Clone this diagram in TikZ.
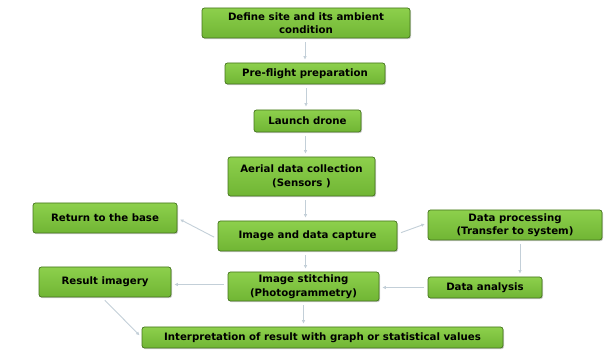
\documentclass[tikz,border=0pt]{standalone}
\usepackage{fontspec}
\newfontfamily\boxfont{DejaVu Sans}
\usepackage{tikz}
\usetikzlibrary{arrows.meta, positioning, shadows}

\definecolor{boxtop}{HTML}{8DD04C}
\definecolor{boxbottom}{HTML}{70B534}
\definecolor{boxline}{HTML}{44741C}
\definecolor{arrowgray}{HTML}{C3CFD8}

\begin{document}
\begin{tikzpicture}[
    x=1pt, y=1pt,
    box/.style={draw=boxline, line width=0.7pt, rectangle, rounded corners=2.5pt,
        top color=boxtop, bottom color=boxbottom, inner sep=1pt, align=center,
        drop shadow={shadow xshift=1pt, shadow yshift=-1.2pt, opacity=0.4},
        font=\boxfont\bfseries\fontsize{10.2}{13.5}\selectfont},
    arrow/.style={-{Latex[length=3.5pt, width=3.5pt]}, arrowgray, line width=0.9pt,
        shorten >=3pt, shorten <=4pt}
]
    \useasboundingbox (0,0) rectangle (614,-352);

    \node[box, minimum width=208, minimum height=30] (site) at (306,-23) {Define site and its ambient\\condition};
    \node[box, minimum width=160, minimum height=21] (prep) at (305,-73.5) {Pre-flight preparation};
    \node[box, minimum width=107, minimum height=22] (launch) at (307.5,-121) {Launch drone};
    \node[box, minimum width=147, minimum height=39] (aerial) at (301.5,-176.5) {Aerial data collection\\(Sensors )};
    \node[box, minimum width=179, minimum height=30] (capture) at (307.5,-236) {Image and data capture};
    \node[box, minimum width=144, minimum height=30] (base) at (105,-218) {Return to the base};
    \node[box, minimum width=174, minimum height=30] (proc) at (515,-225) {Data processing\\(Transfer to system)};
    \node[box, minimum width=151, minimum height=29] (stitch) at (303.5,-286.5) {Image stitching\\(Photogrammetry)};
    \node[box, minimum width=132, minimum height=30] (result) at (105,-282) {Result imagery};
    \node[box, minimum width=114, minimum height=21] (analysis) at (485,-287.5) {Data analysis};
    \node[box, minimum width=361, minimum height=21] (interp) at (322.5,-337.5) {Interpretation of result with graph or statistical values};

    % main chain
    \draw[arrow] ([xshift=-1pt]site.south) -- ([xshift=-1pt]site.south |- prep.north);
    \draw[arrow] ([xshift=1pt]prep.south) -- ([xshift=1pt]prep.south |- launch.north);
    \draw[arrow] ([xshift=-2pt]launch.south) -- ([xshift=-2pt]launch.south |- aerial.north);
    \draw[arrow] ([xshift=4pt]aerial.south) -- ([xshift=4pt]aerial.south |- capture.north);
    \draw[arrow] ([xshift=-2pt]capture.south) -- ([xshift=-2pt]capture.south |- stitch.north);
    \draw[arrow] (stitch.south) -- (stitch.south |- interp.north);

    % side branches
    \draw[arrow] ([yshift=-3pt]capture.west) -- (base.east);
    \draw[arrow] ([yshift=2pt]capture.east) -- ([yshift=2pt]proc.west);
    \draw[arrow] ([xshift=5pt]proc.south) -- ([xshift=5pt]proc.south |- analysis.north);
    \draw[arrow] (analysis.west) -- (analysis.west -| stitch.east);
    \draw[arrow] ([yshift=2pt]stitch.west) -- ([yshift=2pt]stitch.west -| result.east);
    \draw[arrow] ([xshift=-3pt]result.south) -- (interp.west);
\end{tikzpicture}
\end{document}
